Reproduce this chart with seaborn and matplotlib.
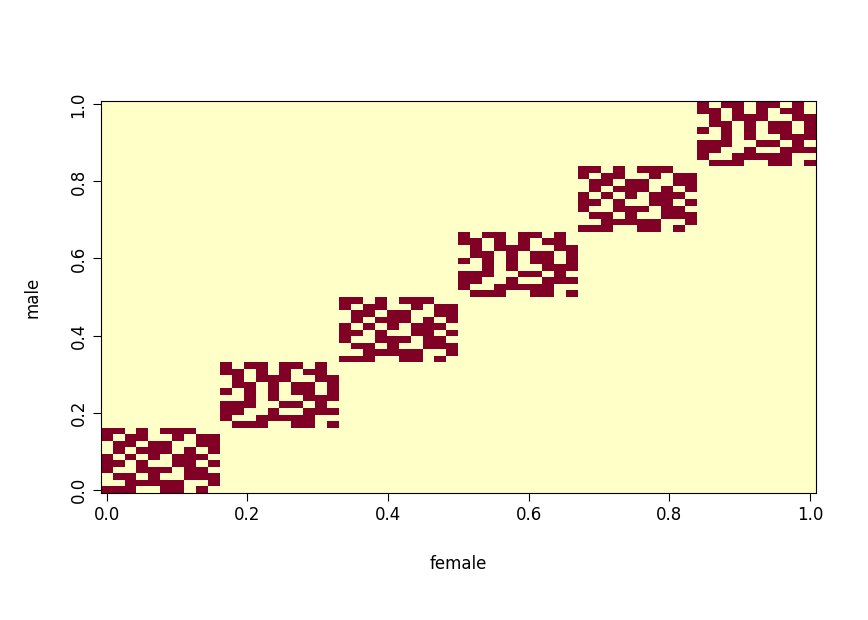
import numpy as np
import pandas as pd
import seaborn as sns
import matplotlib
matplotlib.use("Agg")
import matplotlib.pyplot as plt
from matplotlib.colors import ListedColormap

# block patterns, rows listed top to bottom
pattern_a = ["1101011100", "1011001011", "0110110011", "0101110101", "1010101110",
             "1101001101", "1001110110", "0110100111", "0011111001", "1110011010"]
pattern_b = ["1011011010", "1101010110", "0101110011", "0110101101", "1010101101",
             "0010100111", "1110011010", "1100100111", "1001111100", "0111001101"]
n_blocks = 6
block_size = 10
tick_values = [0.0, 0.2, 0.4, 0.6, 0.8, 1.0]
tick_labels = ["0.0", "0.2", "0.4", "0.6", "0.8", "1.0"]

n = n_blocks * block_size
mat = np.zeros((n, n))
for k in range(n_blocks):
    pat = pattern_a if k % 2 == 0 else pattern_b
    arr = np.array([[int(c) for c in r] for r in pat])[::-1]
    mat[k*block_size:(k+1)*block_size, k*block_size:(k+1)*block_size] = arr

fig = plt.figure(figsize=(8.68, 6.2), dpi=100)
ax = fig.add_axes([0.116, 0.205, 0.824, 0.632])
sns.heatmap(pd.DataFrame(mat), cmap=ListedColormap(["#FFFFC8", "#800026"]),
            cbar=False, ax=ax, square=False)
ax.invert_yaxis()
pos = [v * (n - 1) + 0.5 for v in tick_values]
ax.set_xticks(pos)
ax.set_xticklabels(tick_labels, rotation=0, fontsize=12)
ax.set_yticks(pos)
ax.set_yticklabels(tick_labels, rotation=90, va="center", fontsize=12)
ax.tick_params(length=6, width=0.8, color="black")
for s in ax.spines.values():
    s.set_visible(True)
    s.set_color("black")
    s.set_linewidth(0.8)
ax.set_xlabel("female", fontsize=12, labelpad=22)
ax.set_ylabel("male", fontsize=12, labelpad=20)
fig.savefig("out.png", dpi=100)
